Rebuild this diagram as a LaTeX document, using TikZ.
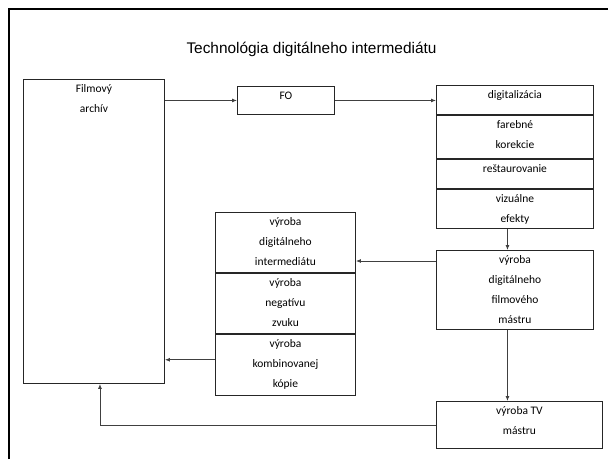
\documentclass[tikz,border=0pt]{standalone}
\usepackage{fontspec}
\setmainfont{Liberation Sans}
\newfontfamily\boxfont{Carlito}
\usetikzlibrary{arrows.meta}

\tikzset{
  blk/.style n args={2}{draw=black!85, line width=0.9pt, rectangle, inner sep=0pt,
    anchor=north west, minimum width=#1, minimum height=#2},
  lbl/.style={font=\boxfont\fontsize{11.5}{20}\selectfont, align=center,
    anchor=north, inner sep=0pt, yshift=-5.5pt},
  conn/.style={draw=black!75, line width=0.9pt, -{Latex[length=5pt,width=4pt]}},
}

\begin{document}
\begin{tikzpicture}[x=1pt,y=1pt,yscale=-1]
\useasboundingbox (0,0) rectangle (608,459);

%Frame
\draw [line width=2.3pt] (9.2,459) -- (9.2,9.2) -- (608,9.2);

% Title
\node [font=\fontsize{15.4}{18}\selectfont] (title) at (311.5,49) {Technológia digitálneho intermediátu};

%Blocks
\node [blk={141pt}{304pt}, label={[lbl]north:Filmový\\archív}] (arch) at (23,79) {};
\node [blk={97pt}{28pt}, label={[lbl]north:FO}] (fo) at (237,86) {};

\node [blk={157pt}{29pt}, label={[lbl]north:digitalizácia}] (dig) at (436,85) {};
\node [blk={157pt}{43pt}, label={[lbl]north:farebné\\korekcie}] (far) at (dig.south west) {};
\node [blk={157pt}{29pt}, label={[lbl]north:reštaurovanie}] (res) at (far.south west) {};
\node [blk={157pt}{39pt}, label={[lbl]north:vizuálne\\efekty}] (viz) at (res.south west) {};

\node [blk={157pt}{79pt}, label={[lbl]north:výroba\\digitálneho\\filmového\\mástru}] (mast) at (436,250) {};
\node [blk={166pt}{47pt}, label={[lbl]north:výroba TV\\mástru}] (tv) at (436,401) {};

\node [blk={140pt}{60pt}, label={[lbl]north:výroba\\digitálneho\\intermediátu}] (dint) at (215,212) {};
\node [blk={140pt}{60pt}, label={[lbl]north:výroba\\negatívu\\zvuku}] (neg) at (dint.south west) {};
\node [blk={140pt}{61pt}, label={[lbl]north:výroba\\kombinovanej\\kópie}] (kop) at (neg.south west) {};

%Connectors
\coordinate (m1) at ([yshift=11pt]mast.north west);
\coordinate (k1) at ([yshift=-5pt]kop.west);
\coordinate (v1) at ([xshift=-7.5pt]viz.south);
\coordinate (v2) at ([xshift=-7.5pt]mast.south);

\draw [conn] (arch.east |- fo.west) -- (fo.west);
\draw [conn] (fo.east) -- (fo.east -| dig.west);
\draw [conn] (v1) -- (v1 |- mast.north);
\draw [conn] (v2) -- (v2 |- tv.north);
\draw [conn] (m1) -- (m1 -| dint.east);
\draw [conn] (k1) -- (k1 -| arch.east);
\draw [conn] (tv.west) -| ([xshift=6pt]arch.south);

\end{tikzpicture}
\end{document}
